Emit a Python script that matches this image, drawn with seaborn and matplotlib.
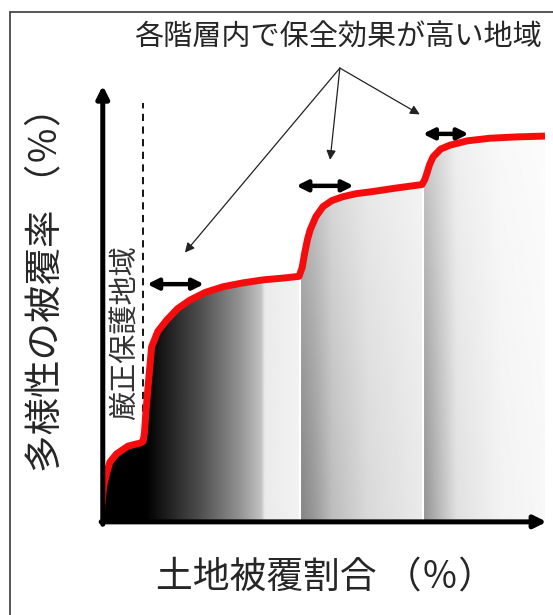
import numpy as np
import pandas as pd
import matplotlib
matplotlib.use("Agg")
import matplotlib.pyplot as plt
from matplotlib.lines import Line2D
import seaborn as sns

# ---- data (axes are 0-100 %) ----
land_cover = [0.0, 0.2, 0.6, 1.3, 2.0, 3.5, 6.1, 8.8, 9.5, 9.8, 10.1, 10.6, 11.4, 12.8, 14.8,
              17.2, 20.0, 23.5, 27.5, 32.0, 36.6, 41.0, 44.6, 45.3, 45.9, 46.5, 47.1, 48.4,
              50.0, 52.0, 54.5, 57.5, 61.3, 66.5, 72.3, 72.9, 73.4, 74.0, 74.8, 76.5, 78.6,
              82.5, 87.6, 93.5, 100.0]
diversity = [0.0, 3.7, 8.0, 11.1, 13.6, 15.5, 17.3, 18.0, 18.4, 20.5, 25.0, 31.0, 40.2, 43.8, 46.4,
             49.0, 51.0, 52.8, 54.1, 55.0, 55.7, 56.1, 56.5, 58.5, 62.0, 65.0, 67.2, 70.3,
             72.6, 74.0, 74.9, 75.6, 76.1, 76.9, 77.7, 78.8, 80.3, 82.3, 84.1, 85.9, 86.8,
             87.8, 88.4, 88.7, 88.9]
tier_breaks = [44.9, 72.6]

title_text = "各階層内で保全効果が高い地域"
xlabel_text = "土地被覆割合 （％）"
ylabel_text = "多様性の被覆率 （％）"
protected_text = "厳正保護地域"

df = pd.DataFrame({"land": land_cover, "div": diversity})

sns.set_theme(style="white")
plt.rcParams['font.family'] = ['Noto Sans CJK JP', 'DejaVu Sans']
thin = ['Noto Sans CJK JP DemiLight', 'Noto Sans CJK JP Light', 'Noto Sans CJK JP', 'DejaVu Sans']

W, H = 553, 615
fig = plt.figure(figsize=(W / 100, H / 100), dpi=100)
fig.patch.set_facecolor("white")

# axes placed so that px x 101->0, 545->100 ; px y 521->0, 88->100
ax = fig.add_axes([101 / W, (H - 521) / H, 444 / W, 433 / H])
ax.set_xlim(0, 100)
ax.set_ylim(0, 100)
ax.axis("off")

# ---- gradient fill under the curve ----
nx, ny = 600, 300
xs = np.linspace(0, 100, nx)
ys = np.linspace(0, 100, ny)
def shade(x):
    if x < tier_breaks[0]:
        return np.interp(x, [0, 10, 22, 31, 36.0, 36.8, 44.9], [0.0, 0.0, 0.30, 0.57, 0.76, 0.92, 0.95])
    elif x < tier_breaks[1]:
        return np.interp(x, [44.9, 48, 52, 60, 72.6], [0.52, 0.60, 0.74, 0.85, 0.92])
    else:
        return np.interp(x, [72.6, 76, 80, 90, 100], [0.58, 0.72, 0.88, 0.95, 0.97])
hval = np.array([shade(x) for x in xs])
img = np.tile(hval, (ny, 1))
yy = ys[:, None] / 100.0
mask23 = (xs >= tier_breaks[0])[None, :]
img = np.where(mask23, img + (1 - img) * 0.55 * yy ** 1.2, img)
im = ax.imshow(img, extent=(0, 100, 0, 100), origin="lower", cmap="gray",
               vmin=0, vmax=1, aspect="auto", interpolation="bilinear", zorder=1)
poly = ax.fill_between(df["land"], 0, df["div"], color="none", lw=0)
im.set_clip_path(poly.get_paths()[0], transform=ax.transData)

# white gaps between tiers
for b in tier_breaks:
    ax.vlines(b, 0, np.interp(b, land_cover, diversity) - 1, color="white", lw=1.5, zorder=2)

# ---- red curve ----
sns.lineplot(data=df, x="land", y="div", color="#f50d0d", lw=5.0, ax=ax,
             estimator=None, sort=False, zorder=5, solid_capstyle="butt",
             solid_joinstyle="round")
ax.set_xlabel("")
ax.set_ylabel("")

# dashed line for strictly protected areas
ax.plot([9.4, 9.4], [19.5, 96.5], color="black", lw=1.3, ls=(0, (4, 3)), zorder=3)
ax.text(5.4, 43.4, protected_text, rotation=90, ha="center", va="center",
        fontsize=21, color="#333333", family=thin, zorder=4)

# ---- axis arrows ----
ax.annotate("", xy=(0.4, 101.2), xytext=(0.4, -1.4), xycoords="data",
            arrowprops=dict(arrowstyle="-|>", lw=3.6, color="black", mutation_scale=18),
            annotation_clip=False, zorder=6)
ax.annotate("", xy=(101.0, -0.2), xytext=(-0.6, -0.2), xycoords="data",
            arrowprops=dict(arrowstyle="-|>", lw=3.6, color="black", mutation_scale=18),
            annotation_clip=False, zorder=6)

# ---- double arrows ----
for x0, x1, y in [(10.4, 23.2, 54.7), (44.0, 56.9, 77.4), (72.5, 82.8, 89.4)]:
    ax.annotate("", xy=(x1, y), xytext=(x0, y),
                arrowprops=dict(arrowstyle="<|-|>", lw=3.2, color="black",
                                mutation_scale=16, shrinkA=0, shrinkB=0),
                annotation_clip=False, zorder=7)

# ---- pointer arrows from title ----
src = (53.8, 104.6)
for tgt in [(18.9, 62.0), (51.6, 83.4), (71.8, 93.9)]:
    ax.annotate("", xy=tgt, xytext=src,
                arrowprops=dict(arrowstyle="-|>", lw=0.9, color="#222222",
                                mutation_scale=14, shrinkA=0, shrinkB=0),
                annotation_clip=False, zorder=7)

# ---- texts ----
fig.text(338 / W, 1 - 38 / H, title_text, ha="center", va="center", fontsize=21,
         color="#262626", family=thin)
fig.text(326 / W, 1 - 578 / H, xlabel_text, ha="center", va="center", fontsize=26.5,
         color="#262626", family=thin)
fig.text(46 / W, 1 - 280 / H, ylabel_text, ha="center", va="center", rotation=90,
         fontsize=27, color="#262626", family=thin)

# ---- outer frame (extends past right/bottom edge) ----
fig.add_artist(Line2D([10 / W, 10 / W], [0, 1 - 12 / H], transform=fig.transFigure,
                      color="#3a3a3a", lw=1.2))
fig.add_artist(Line2D([10 / W, 1], [1 - 12 / H, 1 - 12 / H], transform=fig.transFigure,
                      color="#3a3a3a", lw=1.2))

fig.savefig("out.png", dpi=100, facecolor="white")
